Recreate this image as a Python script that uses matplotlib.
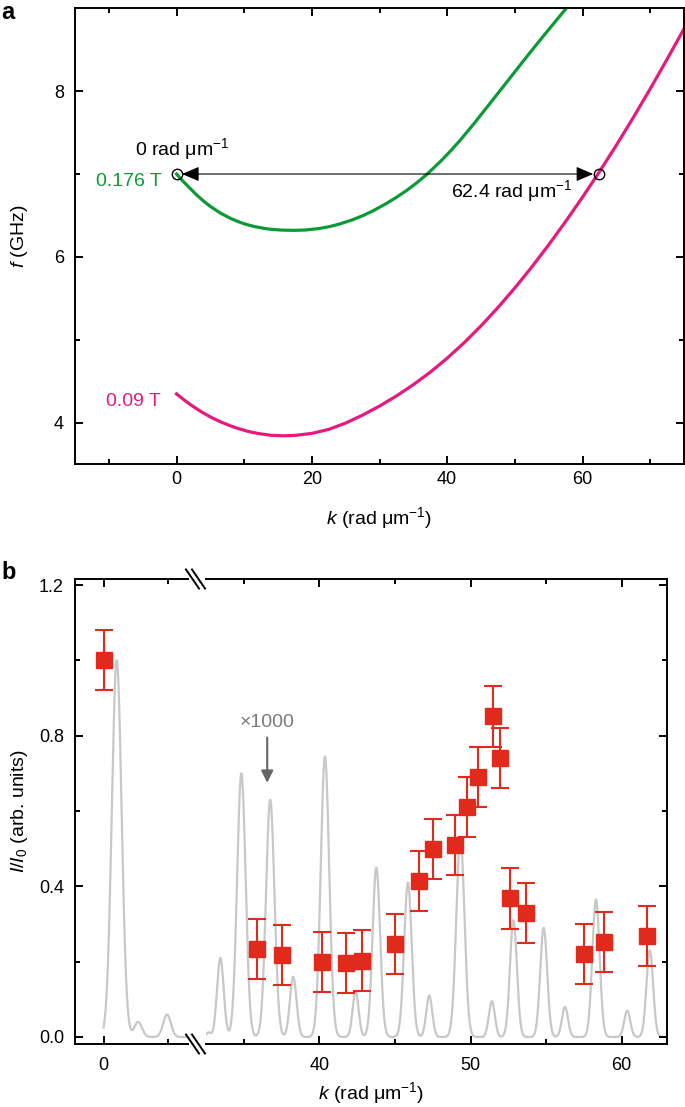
import numpy as np
import matplotlib.pyplot as plt
from matplotlib.ticker import FixedLocator

plt.rcParams['font.family'] = ['Liberation Sans', 'DejaVu Sans']
plt.rcParams['mathtext.fontset'] = 'custom'
plt.rcParams['mathtext.rm'] = 'Liberation Sans'
plt.rcParams['mathtext.it'] = 'Liberation Sans:italic'
plt.rcParams['mathtext.bf'] = 'Liberation Sans:bold'

# ---- panel a: dispersion curves ----
k_green = [0, 1, 2, 3, 4, 5, 6.5, 8, 9, 10, 11.5, 13, 14, 15.6, 17.3, 19, 21, 22.5, 24, 26,
           27.5, 29, 31, 32.5, 34, 35.5, 37, 39, 40.5, 42, 44, 45.5, 47, 49, 50.5, 52, 54,
           56, 57.5, 59, 60]
f_green = [7.00, 6.91, 6.827, 6.746, 6.673, 6.609, 6.528, 6.464, 6.429, 6.399, 6.366, 6.343,
           6.332, 6.323, 6.320, 6.324, 6.341, 6.363, 6.394, 6.447, 6.496, 6.554, 6.643, 6.718,
           6.801, 6.893, 6.996, 7.151, 7.278, 7.415, 7.612, 7.767, 7.922, 8.129, 8.285, 8.440,
           8.643, 8.842, 8.990, 9.135, 9.23]
k_pink = [0, 1, 2, 3, 4, 5.2, 6.5, 7.8, 9, 10.5, 12, 14, 15.8, 17.5, 20, 22.5, 25, 27.5, 30,
          32.5, 35, 37.5, 40, 42.5, 45, 47.5, 50, 52.5, 55, 57.5, 60, 62.5, 65, 67.5, 70,
          72.5, 75]
f_pink = [4.346, 4.281, 4.220, 4.165, 4.114, 4.060, 4.009, 3.966, 3.931, 3.895, 3.869, 3.846,
          3.840, 3.845, 3.869, 3.918, 3.994, 4.090, 4.199, 4.321, 4.457, 4.608, 4.777, 4.963,
          5.167, 5.388, 5.625, 5.877, 6.145, 6.426, 6.720, 7.027, 7.347, 7.681, 8.027, 8.385,
          8.752]
k_marks = [0, 62.4]
f_marks = [7.0, 7.0]

# ---- panel b: measured intensities ----
k_meas = [0, 35.87, 37.5, 40.2, 41.74, 42.84, 45.0, 46.6, 47.5, 49.0, 49.76, 50.49,
          51.52, 51.94, 52.64, 53.7, 57.5, 58.83, 61.7]
i_meas = [1.0, 0.234, 0.218, 0.20, 0.197, 0.203, 0.246, 0.414, 0.50, 0.51, 0.61, 0.69,
          0.851, 0.74, 0.368, 0.33, 0.221, 0.252, 0.268]
i_err = [0.08] * len(k_meas)

# gray simulated pattern: peak centres, heights, widths
peak_k = [1.03, 2.7, 4.96, 32.66, 33.45, 34.84, 36.75, 38.27, 40.37, 42.4, 43.77, 45.86,
          47.27, 49.33, 51.41, 52.84, 54.84, 56.25, 58.3, 60.37, 61.86]
peak_h = [1.0, 0.04, 0.06, 0.012, 0.21, 0.70, 0.63, 0.16, 0.745, 0.12, 0.45, 0.41,
          0.11, 0.53, 0.095, 0.31, 0.29, 0.08, 0.365, 0.07, 0.23]
peak_w = [0.38, 0.3, 0.3, 0.15, 0.22, 0.28, 0.28, 0.22, 0.28, 0.2, 0.25, 0.25,
          0.2, 0.27, 0.2, 0.23, 0.23, 0.2, 0.24, 0.2, 0.22]

GREEN = '#0c9a38'
PINK = '#e8197d'
RED = '#e02b1c'
GRAY = '#c8c8c8'
TXT = 14
TCK = 13

W, H = 685, 1107
fig = plt.figure(figsize=(W / 100, H / 100), dpi=100)


def box(l, t, r, b):
    return [l / W, 1 - b / H, (r - l) / W, (b - t) / H]


def style(ax):
    for s in ax.spines.values():
        s.set_linewidth(1.4)
    ax.tick_params(which='both', direction='in', top=True, right=True, width=1.4, labelsize=TCK)
    ax.tick_params(which='major', length=6)
    ax.tick_params(which='minor', length=3.5)
    ax.tick_params(axis='x', pad=5)
    ax.tick_params(axis='y', pad=8)


# ================= panel a =================
ax = fig.add_axes(box(75, 8.3, 684, 464))
style(ax)
ax.plot(k_green, f_green, color=GREEN, lw=2.3)
ax.plot(k_pink, f_pink, color=PINK, lw=2.3)
ax.plot(k_marks, f_marks, 'o', mfc='none', mec='k', ms=7.5, mew=1, zorder=4)
ax.annotate('', xy=(k_marks[1], f_marks[1]), xytext=(k_marks[0], f_marks[0]),
            arrowprops=dict(arrowstyle='<|-|>,head_length=0.7,head_width=0.3',
                            color='k', lw=0.8, mutation_scale=15, shrinkA=4, shrinkB=4),
            zorder=3)
ax.text(0.9, 7.30, r'0 rad μm$^{-1}$', ha='center', va='center', fontsize=TXT)
ax.text(49.5, 6.80, r'62.4 rad μm$^{-1}$', ha='center', va='center', fontsize=TXT)
ax.text(-2.2, 6.91, '0.176 T', color=GREEN, ha='right', va='center', fontsize=TXT)
ax.text(-2.36, 4.26, '0.09 T', color=PINK, ha='right', va='center', fontsize=TXT)
ax.set_xlim(-15, 75)
ax.set_ylim(3.5, 9.0)
ax.set_xticks([0, 20, 40, 60])
ax.xaxis.set_minor_locator(FixedLocator([-10, 10, 30, 50, 70]))
ax.set_yticks([4, 6, 8])
ax.yaxis.set_minor_locator(FixedLocator([5, 7]))
fig.text(20 / W, 1 - 236 / H, '$f$ (GHz)', rotation=90, ha='center', va='center', fontsize=TXT)
fig.text(379 / W, 1 - 518 / H, r'$k$ (rad μm$^{-1}$)', ha='center', va='center', fontsize=TXT)
fig.text(1 / W, 1 - 1 / H, 'a', fontsize=17, fontweight='bold', ha='left', va='top')

# ================= panel b (broken axis) =================
axl = fig.add_axes(box(75, 579, 188, 1044))
axr = fig.add_axes(box(206, 579, 667, 1044))
style(axl)
style(axr)
axl.spines['right'].set_visible(False)
axr.spines['left'].set_visible(False)
axl.tick_params(which='both', right=False)
axr.tick_params(which='both', left=False, labelleft=False)

k_meas = np.array(k_meas)
i_meas = np.array(i_meas)
i_err = np.array(i_err)
pk = np.array(peak_k)
ph = np.array(peak_h)
pw = np.array(peak_w)

for a, lo, hi in [(axl, 0.0, 6.6), (axr, 32.5, 63.0)]:
    kk = np.linspace(lo, hi, 1500)
    sel = (pk >= lo - 1) & (pk <= hi + 1)
    yy = (ph[sel, None] * np.exp(-0.5 * ((kk[None, :] - pk[sel, None]) / pw[sel, None]) ** 2)).sum(axis=0)
    a.plot(kk, yy, color=GRAY, lw=1.6, zorder=1)
    m = (k_meas >= lo - 1) & (k_meas <= hi + 1)
    a.errorbar(k_meas[m], i_meas[m], yerr=i_err[m], fmt='s', color=RED, mec=RED, ms=11.5,
               elinewidth=1.5, capsize=6.5, capthick=1.5, zorder=3)
    a.set_ylim(-0.0186, 1.216)

axl.set_xlim(-2.23, 6.6)
axr.set_xlim(32.5, 63.0)
axl.set_xticks([0])
axl.xaxis.set_minor_locator(FixedLocator([5]))
axr.set_xticks([40, 50, 60])
axr.xaxis.set_minor_locator(FixedLocator([35, 45, 55]))
for a in (axl, axr):
    a.set_yticks([0.0, 0.4, 0.8, 1.2])
    a.yaxis.set_minor_locator(FixedLocator([0.2, 0.6, 1.0]))
axl.set_yticklabels(['0.0', '0.4', '0.8', '1.2'])
axl.tick_params(axis='x', pad=9)
axr.tick_params(axis='x', pad=9)

axr.annotate('×1000', xy=(36.55, 0.675), xytext=(36.55, 0.836), ha='center', va='center',
             color='#7a7a7a', fontsize=TXT,
             arrowprops=dict(arrowstyle='-|>,head_length=0.6,head_width=0.3', color='#666666',
                             lw=1.5, mutation_scale=12, shrinkA=3, shrinkB=0))

# break marks on top and bottom spines
for yc in (579, 1044):
    for xc in (192.5, 198.5):
        fig.add_artist(plt.Line2D([(xc - 6.5) / W, (xc + 6.5) / W],
                                  [1 - (yc - 9.5) / H, 1 - (yc + 9.5) / H],
                                  color='k', lw=1.4, transform=fig.transFigure))

fig.text(20 / W, 1 - 811 / H, '$I/I_0$ (arb. units)', rotation=90, ha='center', va='center', fontsize=TXT)
fig.text(371 / W, 1 - 1093 / H, r'$k$ (rad μm$^{-1}$)', ha='center', va='center', fontsize=TXT)
fig.text(1 / W, 1 - 561 / H, 'b', fontsize=17, fontweight='bold', ha='left', va='top')

fig.savefig('out.png', dpi=100)
